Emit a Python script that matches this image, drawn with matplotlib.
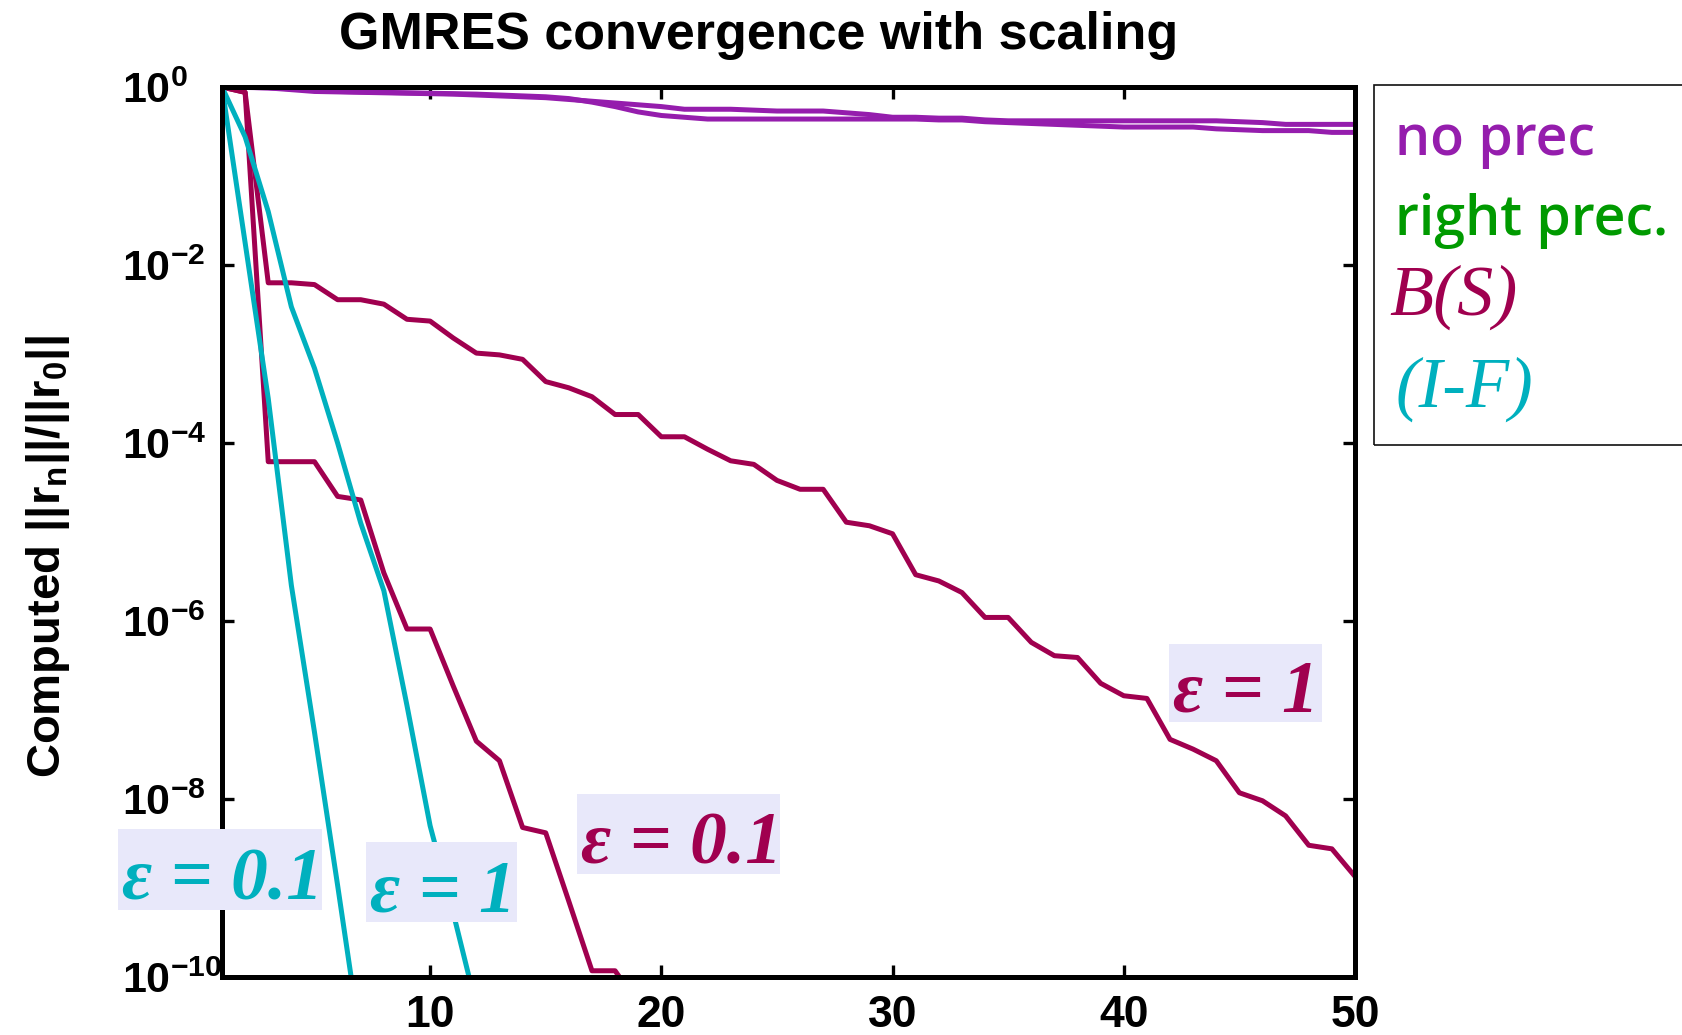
import numpy as np
import matplotlib
matplotlib.use("Agg")
import matplotlib.pyplot as plt
from matplotlib.patches import Rectangle

# ---------------- data (log10 of relative residual) ----------------
iters_50 = np.arange(1, 51)
log_noprec_a = [0, -0.005, -0.01, -0.03, -0.05, -0.055, -0.06, -0.065, -0.07, -0.075,
                -0.08, -0.09, -0.10, -0.11, -0.12, -0.14, -0.16, -0.18, -0.20, -0.22,
                -0.25, -0.25, -0.25, -0.26, -0.27, -0.27, -0.27, -0.29, -0.31, -0.34,
                -0.34, -0.35, -0.35, -0.37, -0.38, -0.38, -0.38, -0.38, -0.38, -0.38,
                -0.38, -0.38, -0.38, -0.38, -0.39, -0.40, -0.42, -0.42, -0.42, -0.42]
log_noprec_b = [0, -0.003, -0.01, -0.02, -0.04, -0.05, -0.055, -0.06, -0.065, -0.07,
                -0.075, -0.08, -0.09, -0.10, -0.11, -0.13, -0.17, -0.22, -0.28, -0.32,
                -0.34, -0.36, -0.36, -0.36, -0.36, -0.36, -0.36, -0.36, -0.36, -0.36,
                -0.36, -0.37, -0.37, -0.39, -0.40, -0.41, -0.42, -0.43, -0.44, -0.45,
                -0.45, -0.45, -0.45, -0.47, -0.48, -0.49, -0.49, -0.49, -0.51, -0.51]
log_bs_eps1 = [0, -0.06, -2.2, -2.2, -2.22, -2.39, -2.39, -2.44, -2.61, -2.63,
               -2.82, -2.99, -3.01, -3.06, -3.31, -3.38, -3.48, -3.68, -3.68, -3.93,
               -3.93, -4.07, -4.20, -4.24, -4.42, -4.52, -4.52, -4.89, -4.93, -5.02,
               -5.48, -5.55, -5.68, -5.96, -5.96, -6.24, -6.39, -6.41, -6.70, -6.84,
               -6.87, -7.33, -7.44, -7.57, -7.93, -8.02, -8.19, -8.52, -8.56, -8.87]
iters_bs01 = np.arange(1, 20)
log_bs_eps01 = [0, -0.06, -4.21, -4.21, -4.21, -4.60, -4.64, -5.46, -6.09, -6.09,
                -6.73, -7.35, -7.57, -8.32, -8.38, -9.15, -9.93, -9.93, -10.3]
iters_if1 = np.arange(1, 13)
log_if_eps1 = [0, -0.56, -1.40, -2.47, -3.16, -4.00, -4.90, -5.66, -6.95, -8.30,
               -9.28, -10.33]
iters_if01 = np.arange(1, 8)
log_if_eps01 = [0, -1.75, -3.50, -5.60, -7.25, -8.97, -10.73]

xticks = [10, 20, 30, 40, 50]
ytick_exps = [0, -2, -4, -6, -8, -10]

# ---------------- style ----------------
PURPLE = "#951DAD"
GREEN = "#009A00"
MAGENTA = "#A0004F"
CYAN = "#00B0BE"
BOXFC = "#E8E8FA"

plt.rcParams["font.family"] = ["Liberation Sans", "DejaVu Sans"]
plt.rcParams["mathtext.fontset"] = "custom"
plt.rcParams["mathtext.rm"] = "Liberation Sans:bold"
plt.rcParams["mathtext.bf"] = "Liberation Sans:bold"
plt.rcParams["mathtext.it"] = "Liberation Sans:bold:italic"

W, H = 1682, 1035
fig = plt.figure(figsize=(W / 100, H / 100), dpi=100)
L, R, T, B = 222, 1355, 87, 977
ax = fig.add_axes([L / W, 1 - B / H, (R - L) / W, (B - T) / H])

lw = 3.6
ax.semilogy(iters_50, 10.0 ** np.array(log_noprec_a), color=PURPLE, lw=lw)
ax.semilogy(iters_50, 10.0 ** np.array(log_noprec_b), color=PURPLE, lw=lw)
ax.semilogy(iters_50, 10.0 ** np.array(log_bs_eps1), color=MAGENTA, lw=lw)
ax.semilogy(iters_bs01, 10.0 ** np.array(log_bs_eps01), color=MAGENTA, lw=lw)
ax.semilogy(iters_if1, 10.0 ** np.array(log_if_eps1), color=CYAN, lw=lw)
ax.semilogy(iters_if01, 10.0 ** np.array(log_if_eps01), color=CYAN, lw=lw)

ax.set_xlim(1, 50)
ax.set_ylim(1e-10, 1)
ax.set_xticks(xticks)
ax.set_xticklabels([str(v) for v in xticks], fontsize=32, fontweight="bold")
ax.set_yticks([10.0 ** e for e in ytick_exps])
ax.set_yticklabels([r"$\mathbf{10^{%d}}$" % e for e in ytick_exps], fontsize=31)
ax.minorticks_off()
ax.tick_params(direction="in", length=8.5, width=2.4, top=True, right=True)
ax.tick_params(axis="x", pad=13)
ax.tick_params(axis="y", pad=72)
for lab in ax.get_yticklabels():
    lab.set_horizontalalignment("left")
for sp in ax.spines.values():
    sp.set_linewidth(3.6)

ax.set_ylabel(r"Computed ||r$_\mathbf{n}$||/||r$_\mathbf{0}$||", fontsize=34,
              fontweight="bold")
ax.yaxis.set_label_coords((72 - L) / (R - L), (B - 557) / (B - T))

fig.text(759 / W, 1 - 35 / H, "GMRES convergence with scaling", fontsize=37.5,
         fontweight="bold", ha="center", va="center")

# epsilon annotations: shaded box + text
def eps_label(box, base_px, txt, color):
    x0, y0, x1, y1 = box
    fig.patches.append(Rectangle((x0 / W, 1 - y1 / H), (x1 - x0) / W, (y1 - y0) / H,
                                 transform=fig.transFigure, fc=BOXFC, ec="none",
                                 zorder=4))
    fig.text((x0 + 4) / W, 1 - base_px / H, txt, fontsize=53, color=color,
             family=["Liberation Serif", "DejaVu Serif"], style="italic",
             fontweight="bold", ha="left", va="baseline", zorder=5)

eps_label((118, 829, 322, 910), 900, "ε = 0.1", CYAN)
eps_label((366, 842, 517, 922), 912, "ε = 1", CYAN)
eps_label((577, 794, 780, 874), 864, "ε = 0.1", MAGENTA)
eps_label((1169, 644, 1322, 722), 712, "ε = 1", MAGENTA)

# legend box
fig.patches.append(Rectangle((1374 / W, 1 - 445 / H), (W + 20 - 1374) / W, 360 / H,
                             transform=fig.transFigure, fill=False, ec="#111111",
                             lw=1.2, clip_on=False))
fig.text(1395 / W, 1 - 155 / H, "no prec", fontsize=40, color=PURPLE,
         family=["Open Sans", "DejaVu Sans"], fontweight="semibold",
         va="baseline", ha="left")
fig.text(1395 / W, 1 - 235 / H, "right prec.", fontsize=40, color=GREEN,
         family=["Open Sans", "DejaVu Sans"], fontweight="semibold",
         va="baseline", ha="left")
fig.text(1389 / W, 1 - 315 / H, "B(S)", fontsize=52, color=MAGENTA,
         family=["Liberation Serif", "DejaVu Serif"], style="italic",
         va="baseline", ha="left")
fig.text(1395 / W, 1 - 407 / H, "(I-F)", fontsize=51, color=CYAN,
         family=["Liberation Serif", "DejaVu Serif"], style="italic",
         va="baseline", ha="left")

fig.savefig("out.png", dpi=100)
